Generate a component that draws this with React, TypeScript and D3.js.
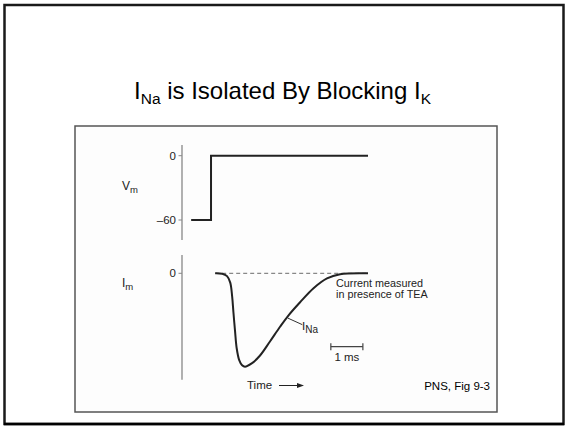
import * as d3 from "d3";
import { useEffect, useRef } from "react";

// voltage command (ms, mV)
const stepTimes = [-0.62, 0, 4.9];
const stepVolts = [-60, 0, 0];

// sodium current trace (ms, normalised)
const traceTimes = [0.13, 0.35, 0.5, 0.6, 0.66, 0.7, 0.75, 0.8, 0.88, 0.97, 1.06, 1.27, 1.53, 1.84, 2.16, 2.42, 2.78, 3.2, 3.62, 4.03, 4.9];
const traceCurrent = [0, -0.005, -0.03, -0.1, -0.25, -0.42, -0.62, -0.8, -0.93, -0.985, -1.0, -0.965, -0.88, -0.73, -0.57, -0.45, -0.31, -0.16, -0.055, -0.01, 0];

const vTicks = [0, -60];
const iTicks = [0];

const W = 565;
const H = 427;
const font = "'Liberation Sans', Arial, Helvetica, sans-serif";

export default function App() {
  const ref = useRef<SVGSVGElement>(null);

  useEffect(() => {
    if (!ref.current) return;
    const svg = d3.select(ref.current);
    svg.selectAll("*").remove();

    const x = d3.scaleLinear().domain([-0.625, 4.9]).range([191, 368]);
    const yV = d3.scaleLinear().domain([-60, 0]).range([220, 155.7]);
    const yI = d3.scaleLinear().domain([-1, 0]).range([366.7, 273.3]);
    const axisX = 182;

    svg.append("rect").attr("width", W).attr("height", H).attr("fill", "#fff");

    // slide frame
    svg.append("rect")
      .attr("x", 4.5).attr("y", 5).attr("width", 559).attr("height", 419)
      .attr("fill", "none").attr("stroke", "#1a1a1a").attr("stroke-width", 2.5);
    svg.append("line").attr("x1", 4).attr("x2", 564).attr("y1", 424).attr("y2", 424)
      .attr("stroke", "#000").attr("stroke-width", 2.5);

    // title
    const title = svg.append("text")
      .attr("x", W / 2).attr("y", 99)
      .attr("text-anchor", "middle")
      .attr("font-family", font).attr("font-size", 24).attr("fill", "#000");
    title.append("tspan").text("I");
    title.append("tspan").attr("font-size", 15.5).attr("dy", 5).text("Na");
    title.append("tspan").attr("dy", -5).text(" is Isolated By Blocking I");
    title.append("tspan").attr("font-size", 15.5).attr("dy", 5).text("K");

    // figure frame
    svg.append("rect")
      .attr("x", 75).attr("y", 126).attr("width", 422).attr("height", 286)
      .attr("fill", "#fdfdfd").attr("stroke", "#555").attr("stroke-width", 1.5);

    const g = svg.append("g").attr("font-family", font).attr("fill", "#222");

    // Vm axis
    g.append("line").attr("x1", axisX).attr("x2", axisX)
      .attr("y1", yV(10)).attr("y2", yV(-78.6))
      .attr("stroke", "#888").attr("stroke-width", 1.3);
    vTicks.forEach((v) => {
      g.append("line").attr("x1", axisX - 3.5).attr("x2", axisX)
        .attr("y1", yV(v)).attr("y2", yV(v)).attr("stroke", "#888");
      g.append("text").attr("x", axisX - 6).attr("y", yV(v) + 4)
        .attr("text-anchor", "end").attr("font-size", 11.5)
        .text(v < 0 ? `\u2013${Math.abs(v)}` : `${v}`);
    });
    const vm = g.append("text").attr("x", 122).attr("y", 190).attr("font-size", 12);
    vm.append("tspan").text("V");
    vm.append("tspan").attr("font-size", 9.5).attr("dy", 3).text("m");

    // voltage step
    const stepData = stepTimes.map((t, i) => ({ t, v: stepVolts[i] }));
    g.append("path")
      .datum(stepData)
      .attr("d", d3.line<{ t: number; v: number }>()
        .x((d) => x(d.t)).y((d) => yV(d.v)).curve(d3.curveStepAfter))
      .attr("fill", "none").attr("stroke", "#222").attr("stroke-width", 2);

    // Im axis
    g.append("line").attr("x1", axisX).attr("x2", axisX)
      .attr("y1", yI(0.196)).attr("y2", yI(-1.14))
      .attr("stroke", "#888").attr("stroke-width", 1.3);
    iTicks.forEach((v) => {
      g.append("line").attr("x1", axisX - 3.5).attr("x2", axisX)
        .attr("y1", yI(v)).attr("y2", yI(v)).attr("stroke", "#888");
      g.append("text").attr("x", axisX - 6).attr("y", yI(v) + 4)
        .attr("text-anchor", "end").attr("font-size", 11.5).text(`${v}`);
    });
    const im = g.append("text").attr("x", 122).attr("y", 287).attr("font-size", 12);
    im.append("tspan").text("I");
    im.append("tspan").attr("font-size", 9.5).attr("dy", 3).text("m");

    // zero-current reference
    g.append("line")
      .attr("x1", x(traceTimes[0])).attr("x2", x(traceTimes[traceTimes.length - 1]))
      .attr("y1", yI(0)).attr("y2", yI(0))
      .attr("stroke", "#888").attr("stroke-width", 1.2).attr("stroke-dasharray", "4,3");

    // current trace
    const traceData = traceTimes.map((t, i) => ({ t, c: traceCurrent[i] }));
    g.append("path")
      .datum(traceData)
      .attr("d", d3.line<{ t: number; c: number }>()
        .x((d) => x(d.t)).y((d) => yI(d.c)).curve(d3.curveCatmullRom.alpha(0.5)))
      .attr("fill", "none").attr("stroke", "#222").attr("stroke-width", 2);

    // labels
    const cm = g.append("text").attr("x", 336).attr("font-size", 10.8);
    cm.append("tspan").attr("x", 336).attr("y", 286.5).text("Current measured");
    cm.append("tspan").attr("x", 336).attr("y", 298).text("in presence of TEA");

    g.append("line").attr("x1", x(2.4)).attr("y1", yI(-0.48))
      .attr("x2", x(2.85)).attr("y2", yI(-0.55))
      .attr("stroke", "#333").attr("stroke-width", 1);
    const ina = g.append("text").attr("x", 302).attr("y", 330).attr("font-size", 11.5);
    ina.append("tspan").text("I");
    ina.append("tspan").attr("font-size", 10).attr("dy", 3).text("Na");

    // 1 ms scale bar
    const sb = 3.74;
    const sy = 346.7;
    g.append("line").attr("x1", x(sb)).attr("x2", x(sb + 1)).attr("y1", sy).attr("y2", sy)
      .attr("stroke", "#444").attr("stroke-width", 1.2);
    [sb, sb + 1].forEach((t) => {
      g.append("line").attr("x1", x(t)).attr("x2", x(t)).attr("y1", sy - 3.5).attr("y2", sy + 3.5)
        .attr("stroke", "#444").attr("stroke-width", 1.2);
    });
    g.append("text").attr("x", x(sb + 0.5)).attr("y", 361).attr("text-anchor", "middle")
      .attr("font-size", 11.5).text("1 ms");

    // time arrow
    g.append("text").attr("x", 247).attr("y", 389).attr("font-size", 11.5).text("Time");
    g.append("line").attr("x1", 279).attr("x2", 299).attr("y1", 385.5).attr("y2", 385.5)
      .attr("stroke", "#222").attr("stroke-width", 1);
    g.append("path").attr("d", "M304,385.5 L297,383 L297,388 Z").attr("fill", "#222");

    g.append("text").attr("x", 490).attr("y", 390).attr("text-anchor", "end")
      .attr("font-size", 11.5).attr("fill", "#000").text("PNS, Fig 9-3");

    return () => {
      d3.select(ref.current).selectAll("*").remove();
    };
  }, []);

  return (
    <svg
      ref={ref}
      width={W}
      height={H}
      style={{ position: "fixed", left: 0, top: 0, display: "block" }}
    />
  );
}
